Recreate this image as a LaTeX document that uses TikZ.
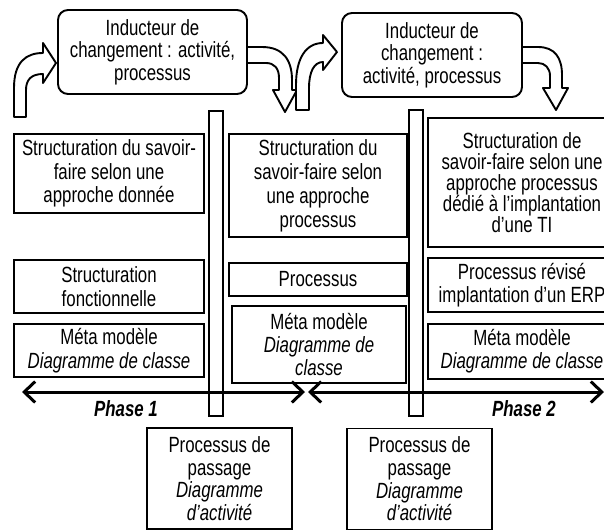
\documentclass[tikz,border=0pt]{standalone}
\usepackage{fontspec}
\newfontfamily\df{Liberation Sans}[FakeStretch=0.765]
\usetikzlibrary{arrows.meta}
\begin{document}
\begin{tikzpicture}[x=1pt,y=-1pt,
  txt/.style={font=\df\fontsize{22}{#1}\selectfont, align=center, inner sep=0pt},
  txt/.default=24,
  box/.style={draw, line width=1.9pt, fill=white},
  topbox/.style={box, rounded corners=10pt},
  bar/.style={draw, line width=1.9pt, fill=white, minimum width=14pt, inner sep=0pt},
  blockarrow/.style={draw, line width=1.9pt, fill=white, line join=round},
  phase/.style={line width=3pt, {Straight Barb[length=11pt,width=21pt]}-{Straight Barb[length=11pt,width=21pt]}}]
\useasboundingbox (0,0) rectangle (604,530);

% vertical separators between the three columns
\node[bar, minimum height=305pt] (bar1) at (216,263.5) {};
\node[bar, minimum height=306pt] (bar2) at (416,263) {};

% bent block arrows around the change drivers
\draw[blockarrow] (14,117) -- (14,88) .. controls (14,62) and (26,53) .. (43,53)
  -- (43,43) -- (56,63) -- (43,83) -- (43,74)
  .. controls (31,74) and (26,80) .. (26,90) -- (26,117) -- cycle;
\draw[blockarrow] (240,47) -- (262,47) .. controls (283,47) and (292,60) .. (292,80)
  -- (292,90) -- (297,90) -- (285,112) -- (273,90) -- (279,90) -- (279,78)
  .. controls (279,68) and (274,63) .. (266,63) -- (240,63) -- cycle;
\draw[blockarrow] (296,110) -- (296,85) .. controls (296,58) and (306,43) .. (323,43)
  -- (323,35) -- (337,52) -- (323,70) -- (323,62)
  .. controls (314,62) and (309,72) .. (309,88) -- (309,110) -- cycle;
\draw[blockarrow] (515,47) -- (538,47) .. controls (555,47) and (562,58) .. (562,75)
  -- (562,88) -- (568,88) -- (556,110) -- (543,88) -- (550,88) -- (550,76)
  .. controls (550,68) and (545,63) .. (538,63) -- (515,63) -- cycle;

% change drivers
\node[topbox, txt=22.5, minimum width=189pt, minimum height=84pt] (ind1) at (152.5,52)
  {Inducteur de\\changement : activité,\\processus};
\node[topbox, txt=22.5, minimum width=180pt, minimum height=84pt] (ind2) at (432,55)
  {Inducteur de\\changement :\\activité, processus};

% column 1
\node[box, txt=23.5, minimum width=190pt, minimum height=79pt] (a1) at (109,173.5)
  {Structuration du savoir-\\faire selon une\\approche donnée};
\node[box, txt=23.5, minimum width=190pt, minimum height=53pt] (a2) at (109,286.5)
  {Structuration\\fonctionnelle};
\node[box, txt=23.5, minimum width=190pt, minimum height=53pt] (a3) at (109,350.5)
  {Méta modèle\\\textit{Diagramme de classe}};

% column 2
\node[box, txt=24, minimum width=178pt, minimum height=103pt] (b1) at (318,185.5)
  {Structuration du\\savoir-faire selon\\une approche\\processus};
\node[box, txt, minimum width=178pt, minimum height=33pt] (b2) at (318,279.5)
  {Processus};
\node[box, txt=23, minimum width=174pt, minimum height=77pt] (b3) at (319,344.5)
  {Méta modèle\\\textit{Diagramme de}\\\textit{classe}};

% column 3
\node[box, txt=21, minimum width=188pt, minimum height=129pt] (c1) at (522,182.5)
  {Structuration de\\savoir-faire selon une\\approche processus\\dédié à l’implantation\\d’une TI};
\node[box, txt=23, minimum width=188pt, minimum height=54pt] (c2) at (522,285)
  {Processus révisé\\implantation d’un ERP};
\node[box, txt=23, minimum width=188pt, minimum height=55pt] (c3) at (522,351.5)
  {Méta modèle\\\textit{Diagramme de classe}};

% phase spans
\coordinate (p1l) at (22,392);
\coordinate (p1r) at (305,392);
\coordinate (p2l) at (308,392);
\coordinate (p2r) at (604,392);
\draw[phase] (p1l) -- (p1r);
\draw[phase] (p2l) -- (p2r);
\node[txt, font=\df\fontsize{22}{24}\selectfont\bfseries\itshape] (ph1) at (126,409) {Phase 1};
\node[txt, font=\df\fontsize{22}{24}\selectfont\bfseries\itshape] (ph2) at (524,409) {Phase 2};

% transition processes
\node[box, txt=22.7, minimum width=145pt, minimum height=101pt] (d1) at (219.5,478.5)
  {Processus de\\passage\\\textit{Diagramme}\\\textit{d’activité}};
\node[box, txt=22.7, minimum width=145pt, minimum height=101pt] (d2) at (419.5,479)
  {Processus de\\passage\\\textit{Diagramme}\\\textit{d’activité}};
\end{tikzpicture}
\end{document}
